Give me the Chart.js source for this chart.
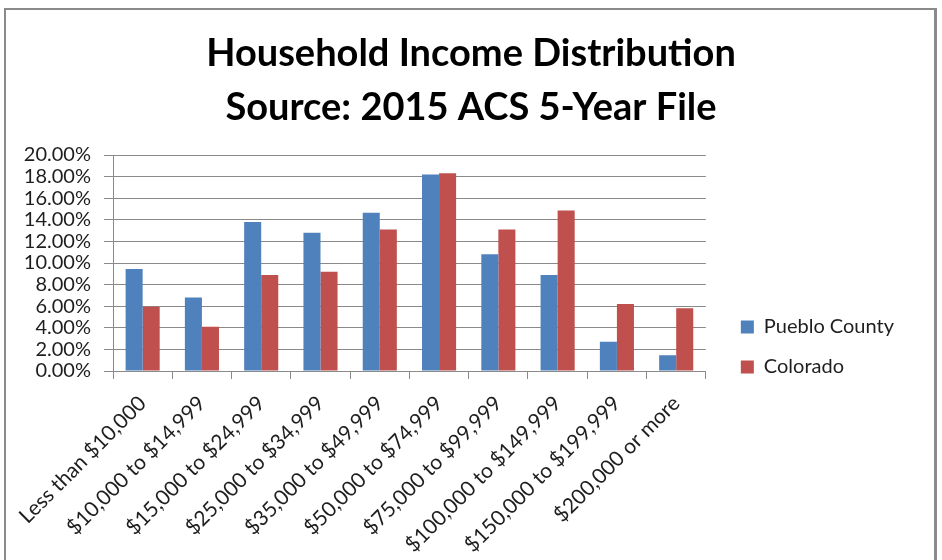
<!DOCTYPE html>
<html>
<head>
<meta charset="utf-8">
<script src="https://cdn.jsdelivr.net/npm/chart.js@4.4.0/dist/chart.umd.min.js"></script>
<style>
  html, body { margin: 0; padding: 0; background: #fff; }
  #frame { position: absolute; left: 4px; top: 8px; width: 933px; height: 600px;
           border-left: 2px solid #8a8a8a; border-top: 2px solid #8a8a8a; border-right: 3px solid #8a8a8a;
           box-sizing: border-box; }
  #wrap { position: absolute; left: 0; top: 0; width: 942px; height: 560px; }
</style>
</head>
<body>
<div id="frame"></div>
<div id="wrap"><canvas id="myChart" width="942" height="560"></canvas></div>
<script>
// Household income brackets, share of households (%)
var incomeLabels = ['Less than $10,000', '$10,000 to $14,999', '$15,000 to $24,999', '$25,000 to $34,999',
    '$35,000 to $49,999', '$50,000 to $74,999', '$75,000 to $99,999', '$100,000 to $149,999',
    '$150,000 to $199,999', '$200,000 or more'];
var puebloValues = [9.45, 6.8, 13.8, 12.8, 14.65, 18.2, 10.8, 8.9, 2.7, 1.45];
var coloradoValues = [5.95, 4.1, 8.9, 9.2, 13.1, 18.3, 13.1, 14.85, 6.2, 5.8];
var seriesNames = ['Pueblo County', 'Colorado'];
var titleLines = ['Household Income Distribution', 'Source: 2015 ACS 5-Year File'];

var gridGray = '#8a8a8a';
var textColor = '#1e1e1e';

var ctx = document.getElementById('myChart').getContext('2d');
var chart = new Chart(ctx, {
    type: 'bar',
    data: {
        labels: incomeLabels,
        datasets: [{
            label: seriesNames[0],
            data: puebloValues,
            backgroundColor: '#4F81BD',
            categoryPercentage: 0.575,
            barPercentage: 1.0
        }, {
            label: seriesNames[1],
            data: coloradoValues,
            backgroundColor: '#C0504D',
            categoryPercentage: 0.575,
            barPercentage: 1.0
        }]
    },
    options: {
        responsive: false,
        animation: false,
        layout: { padding: 0 },
        plugins: {
            tooltip: { enabled: false },
            title: {
                display: true,
                text: titleLines,
                color: '#000',
                font: { family: 'Lato', size: 38, weight: 'bold', lineHeight: 54 / 38 },
                padding: { top: 27, bottom: 20 }
            },
            legend: {
                position: 'right',
                maxWidth: 220,
                // empty title only pushes the two entries down
                title: { display: true, text: '', font: { size: 10, lineHeight: 1.2 }, padding: { top: 122, bottom: 0 } },
                labels: {
                    color: textColor,
                    font: { family: 'Lato', size: 20 },
                    boxWidth: 13,
                    boxHeight: 13,
                    padding: 20
                }
            }
        },
        scales: {
            x: {
                grid: { display: true, drawOnChartArea: false, color: gridGray, tickLength: 8, offset: true },
                border: { color: gridGray },
                ticks: {
                    autoSkip: false, minRotation: 45, maxRotation: 45, padding: 12,
                    color: textColor, font: { family: 'Lato', size: 21 }
                },
                afterFit: function (scale) { scale.height = 189; }
            },
            y: {
                min: 0,
                max: 20,
                grid: { color: gridGray, tickLength: 9 },
                border: { color: gridGray },
                ticks: {
                    stepSize: 2, autoSkip: false, padding: 13, color: textColor,
                    font: { family: 'Lato', size: 20 },
                    callback: function (v) { return v.toFixed(2) + '%'; }
                },
                afterFit: function (scale) { scale.width = 113; }
            },
            // empty spacer between the plot and the legend
            gap: {
                position: 'right',
                grid: { display: false },
                border: { display: false },
                ticks: { display: false },
                afterFit: function (scale) { scale.width = 15; }
            },
            // empty margin outside the legend
            edge: {
                position: 'right',
                weight: 1500,
                grid: { display: false },
                border: { display: false },
                ticks: { display: false },
                afterFit: function (scale) { scale.width = 38; }
            }
        }
    }
});
</script>
</body>
</html>
